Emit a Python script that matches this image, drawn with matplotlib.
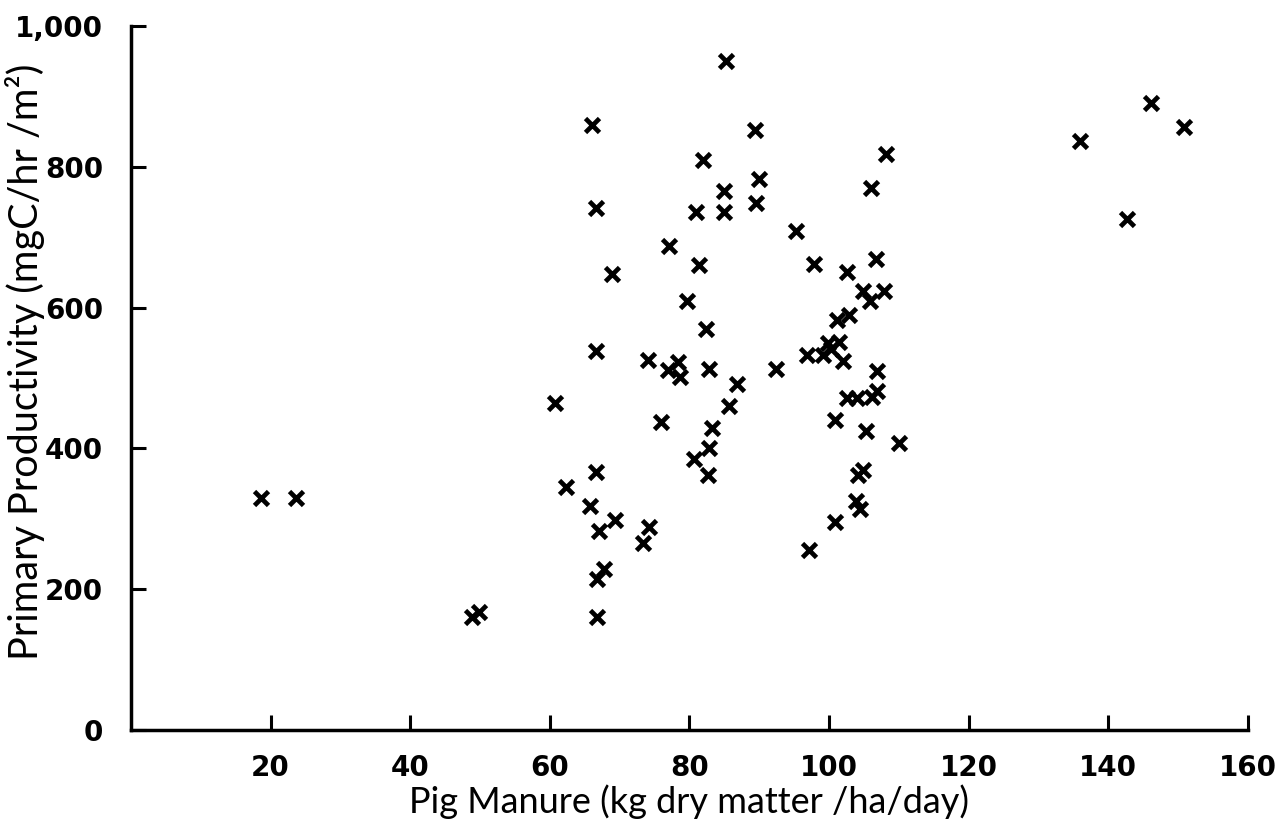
import matplotlib
matplotlib.use('Agg')
import matplotlib.pyplot as plt

plt.rcParams['font.family'] = ['Lato', 'DejaVu Sans']

# pig manure loading (kg dry matter/ha/day)
manure = [18.6, 23.7, 48.8, 49.8, 60.7, 62.3, 65.8, 66.1, 66.6, 66.6,
          66.6, 67.0, 66.7, 67.7, 66.7, 68.9, 69.3, 73.4, 74.2, 74.1,
          75.9, 76.9, 77.1, 78.4, 78.6, 79.7, 80.7, 80.9, 81.3, 82.0,
          82.3, 82.8, 83.2, 82.8, 82.7, 84.9, 85.0, 85.3, 85.7, 86.8,
          89.4, 89.9, 89.5, 92.4, 95.2, 96.9, 97.1, 97.9, 99.2, 99.9,
          100.3, 101.4, 100.8, 100.8, 101.2, 102.0, 102.5, 102.8, 102.6, 104.0,
          103.8, 104.4, 104.2, 104.9, 104.9, 105.3, 105.9, 106.0, 106.1, 106.8,
          106.7, 106.9, 107.9, 108.1, 110.0, 136.0, 142.7, 146.1, 150.9]

# primary productivity (mgC/hr/m2)
productivity = [329, 329, 160, 167, 465, 345, 318, 859, 741, 538,
                367, 282, 215, 228, 161, 648, 298, 266, 289, 525,
                437, 512, 688, 523, 502, 610, 385, 736, 660, 809,
                570, 513, 429, 400, 362, 736, 766, 950, 460, 491,
                852, 783, 749, 513, 709, 533, 255, 662, 532, 550,
                541, 551, 440, 295, 582, 524, 651, 589, 471, 471,
                325, 314, 362, 370, 623, 425, 609, 770, 473, 482,
                669, 510, 623, 818, 408, 836, 726, 890, 857]

x_ticks = [20, 40, 60, 80, 100, 120, 140, 160]
y_ticks = [0, 200, 400, 600, 800, 1000]
y_labels = ['0', '200', '400', '600', '800', '1,000']

fig = plt.figure(figsize=(12.75, 8.22), dpi=100)
ax = fig.add_axes([0.1027, 0.1119, 0.8761, 0.8565])

ax.plot(manure, productivity, linestyle='none', marker='x', color='black',
        markersize=10, markeredgewidth=3.4)

ax.set_xlim(0, 160)
ax.set_ylim(0, 1000)

ax.spines['top'].set_visible(False)
ax.spines['right'].set_visible(False)
for side in ['left', 'bottom']:
    ax.spines[side].set_linewidth(2.5)

tick_font = dict(family='DejaVu Sans', size=20, weight='bold')
ax.set_xticks(x_ticks)
ax.set_xticklabels([str(t) for t in x_ticks], fontdict=tick_font)
ax.set_yticks(y_ticks)
ax.set_yticklabels(y_labels, fontdict=tick_font)
ax.tick_params(axis='both', direction='in', length=11, width=2.2)
ax.tick_params(axis='x', pad=17)
ax.tick_params(axis='y', pad=20)

ax.set_xlabel('Pig Manure (kg dry matter /ha/day)', fontsize=26)
ax.xaxis.set_label_coords(0.5, -0.077)
ax.set_ylabel('Primary Productivity (mgC/hr /m²)', fontsize=28.5)
ax.yaxis.set_label_coords(-0.077, 0.523)

fig.savefig('out.png', dpi=100, facecolor='white')
